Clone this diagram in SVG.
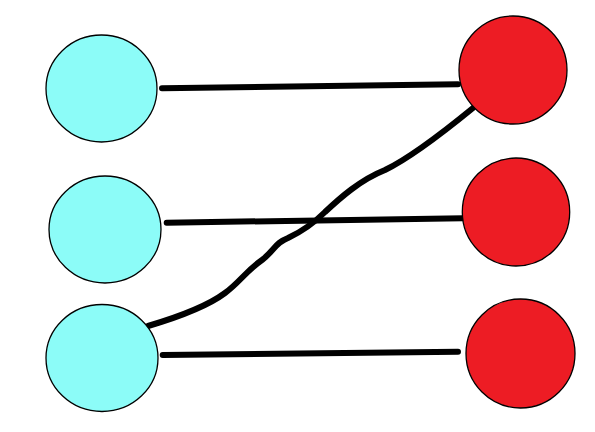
<svg xmlns="http://www.w3.org/2000/svg" width="595" height="432" viewBox="0 0 595 432">
<style>
.l{fill:#8CFCF8;stroke:#000;stroke-width:1.3}
.r{fill:#ED1C24;stroke:#000;stroke-width:1.3}
.c{fill:none;stroke:#000;stroke-width:6;stroke-linecap:round;stroke-linejoin:round}
</style>
<rect width="595" height="432" fill="#fff"/>
<g id="connectors">
<path class="c" d="M162,88.3 L458,84.3"/>
<path class="c" d="M166.7,222.7 L463,218.3"/>
<path class="c" d="M162.7,355 L458,351.7"/>
<path class="c" d="M148,326 C175,318 205,308 225,293 C240,282 245,272 262,260 C275,250 275,243 288,238 C305,230 315,222 325,212 C340,198 360,180 385,170 C410,158 440,135 473,108"/>
</g>
<g id="left1"><ellipse class="l" cx="101.5" cy="88.5" rx="55.5" ry="53.5"/></g>
<g id="left2"><ellipse class="l" cx="105" cy="229.5" rx="56" ry="53.5"/></g>
<g id="left3"><ellipse class="l" cx="102" cy="358" rx="56" ry="53.5"/></g>
<g id="right1"><ellipse class="r" cx="513" cy="70" rx="54" ry="54"/></g>
<g id="right2"><ellipse class="r" cx="516" cy="212" rx="53.7" ry="54"/></g>
<g id="right3"><ellipse class="r" cx="520.5" cy="353.5" rx="54.5" ry="54.5"/></g>
</svg>
